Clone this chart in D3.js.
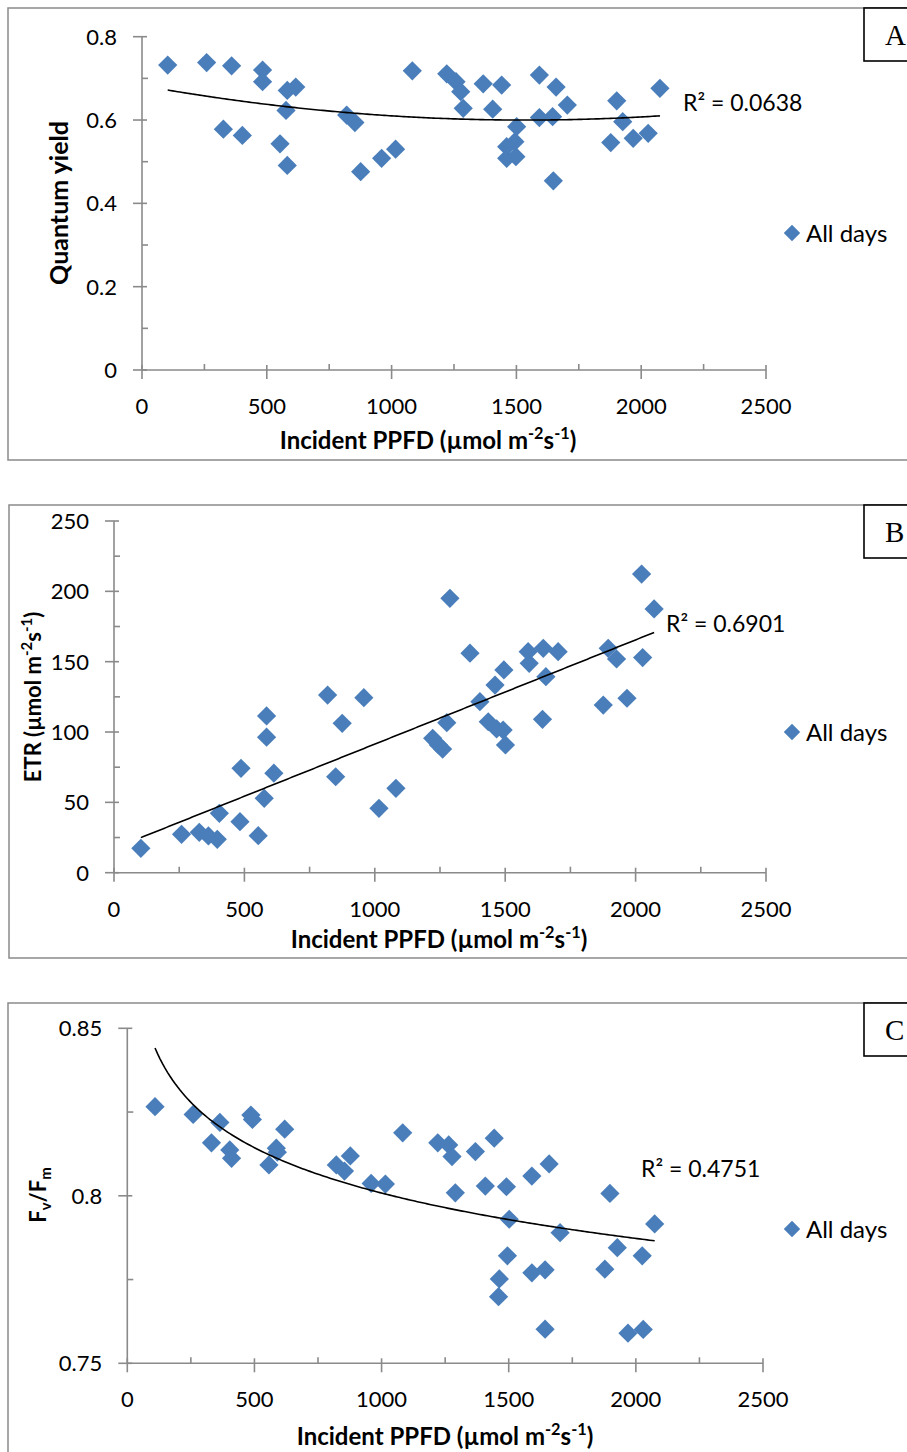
<!DOCTYPE html>
<html>
<head>
<meta charset="utf-8">
<script src="https://cdn.jsdelivr.net/npm/d3@7"></script>
<style>
  html, body { margin: 0; padding: 0; background: #fff; }
  svg { display: block; }
  text { font-family: Lato, "Open Sans", sans-serif; fill: #000; }
</style>
</head>
<body>
<svg id="chart" width="907" height="1452"></svg>
<script>
// ---- data ----
const ppfdA  = [103, 259, 326, 359, 402, 483, 483, 553, 577, 582, 582, 616, 820, 853, 876, 960, 1016, 1083,
                1221, 1258, 1277, 1287, 1367, 1405, 1441, 1461, 1461, 1494, 1498, 1501, 1592, 1592, 1645, 1648,
                1659, 1704, 1878, 1902, 1926, 1968, 2028, 2075];
const yieldA = [0.732, 0.738, 0.578, 0.730, 0.563, 0.720, 0.692, 0.543, 0.623, 0.671, 0.491, 0.679, 0.612, 0.594,
                0.476, 0.508, 0.530, 0.718, 0.711, 0.692, 0.668, 0.628, 0.687, 0.626, 0.684, 0.536, 0.508, 0.548,
                0.512, 0.584, 0.708, 0.606, 0.608, 0.454, 0.679, 0.636, 0.546, 0.646, 0.596, 0.556, 0.568, 0.676];

const ppfdB = [103, 259, 327, 362, 396, 404, 483, 487, 553, 576, 585, 585, 613, 819, 850, 875, 958, 1016, 1081,
               1222, 1244, 1260, 1276, 1288, 1365, 1403, 1435, 1461, 1467, 1492, 1495, 1501, 1588, 1592, 1643,
               1646, 1656, 1703, 1876, 1895, 1927, 1967, 2023, 2027, 2071];
const etrB  = [17.3, 27.3, 28.7, 26.1, 23.7, 42.2, 36.3, 74.2, 26.3, 52.9, 96.3, 111.4, 70.7, 126.3, 68.2, 106.2,
               124.4, 45.8, 60.0, 95.5, 90.8, 87.9, 106.6, 195.0, 156.0, 121.6, 107.3, 133.4, 102.2, 101.4, 144.1,
               90.8, 157.1, 148.8, 109.0, 159.5, 139.3, 157.1, 119.2, 159.5, 151.9, 124.0, 212.3, 152.9, 187.5];

const ppfdC = [109, 259, 331, 364, 403, 410, 486, 492, 557, 586, 590, 619, 822, 854, 877, 959, 1015, 1083, 1221,
               1264, 1277, 1290, 1369, 1408, 1443, 1460, 1463, 1491, 1495, 1502, 1591, 1591, 1643, 1643, 1659,
               1702, 1878, 1898, 1927, 1969, 2025, 2029, 2074];
const fvfmC = [0.8266, 0.8243, 0.8158, 0.8219, 0.8137, 0.8112, 0.8241, 0.8228, 0.8092, 0.8142, 0.8130, 0.8199,
               0.8092, 0.8074, 0.8119, 0.8037, 0.8035, 0.8188, 0.8158, 0.8152, 0.8117, 0.8009, 0.8132, 0.8029,
               0.8172, 0.7699, 0.7752, 0.8027, 0.7821, 0.7930, 0.8059, 0.7770, 0.7779, 0.7602, 0.8095, 0.7890,
               0.7781, 0.8007, 0.7845, 0.7590, 0.7821, 0.7601, 0.7916];

// trendline coefficients
const trendA = [0.6827, -1.0772e-4, 3.503e-8];   // polynomial, order 2
const trendB = [17.3, 0.0741];                    // linear
const trendC = [0.9358, -0.01954];                // logarithmic

const xTicks      = [0, 500, 1000, 1500, 2000, 2500];
const xMinorTicks = [250, 750, 1250, 1750, 2250];
const yTicksA     = [0, 0.2, 0.4, 0.6, 0.8];
const yMinorA     = [0.1, 0.3, 0.5, 0.7];
const yTicksB     = [0, 50, 100, 150, 200, 250];
const yMinorB     = [25, 75, 125, 175, 225];
const yTicksC     = [0.75, 0.8, 0.85];
const yMinorC     = [0.775, 0.825];
const r2Labels    = ["R² = 0.0638", "R² = 0.6901", "R² = 0.4751"];
const panelLetters = ["A", "B", "C"];
const seriesName  = "All days";

// ---- drawing ----
const svg = d3.select("#chart");
const BLUE = "#4a7ebb";
const AXIS = "#8a8a8a";
const fmtTick = d3.format("");

function richText(sel, parts, base) {
  // parts: [text, "sup"|"sub"|null]
  let shift = 0;
  parts.forEach(([t, kind]) => {
    const target = kind === "sup" ? -0.42 * base : kind === "sub" ? 0.22 * base : 0;
    const ts = sel.append("tspan").text(t).attr("dy", target - shift);
    if (kind) ts.attr("font-size", base * 0.68);
    shift = target;
  });
}

const unitParts = [["Incident PPFD (µmol m", null], ["-2", "sup"], ["s", null], ["-1", "sup"], [")", null]];

const panels = [
  {
    xs: ppfdA, ys: yieldA, frame: [8, 8, 460], xr: [142, 766], yr: [370, 36.7], yd: [0, 0.8],
    yTicks: yTicksA, yMinor: yMinorA, tickFmt: d3.format(""),
    trend: x => trendA[0] + trendA[1] * x + trendA[2] * x * x,
    yTitle: [["Quantum yield", null]], yTitleSize: 25, yTitlePos: [68, 203],
    xTitlePos: [428, 449], r2: r2Labels[0], r2Pos: [683, 111], legendY: 233, letter: panelLetters[0]
  },
  {
    xs: ppfdB, ys: etrB, frame: [9, 505, 958], xr: [114, 766], yr: [872.7, 521], yd: [0, 250],
    yTicks: yTicksB, yMinor: yMinorB, tickFmt: d3.format(""),
    trend: x => trendB[0] + trendB[1] * x,
    yTitle: [["ETR (µmol m", null], ["-2", "sup"], ["s", null], ["-1", "sup"], [")", null]],
    yTitleSize: 22, yTitlePos: [41, 697],
    xTitlePos: [439, 948], r2: r2Labels[1], r2Pos: [666, 632], legendY: 732, letter: panelLetters[1]
  },
  {
    xs: ppfdC, ys: fvfmC, frame: [8, 1003, 1470], xr: [127.3, 763], yr: [1363.3, 1028.3], yd: [0.75, 0.85],
    yTicks: yTicksC, yMinor: yMinorC, tickFmt: d3.format(""),
    trend: x => trendC[0] + trendC[1] * Math.log(x),
    yTitle: [["F", null], ["v", "sub"], ["/F", null], ["m", "sub"]], yTitleSize: 22, yTitlePos: [46, 1195],
    xTitlePos: [445, 1445], r2: r2Labels[2], r2Pos: [641, 1177], legendY: 1229, letter: panelLetters[2]
  }
];

panels.forEach(p => {
  const g = svg.append("g");
  const [fx, fy, fb] = p.frame;

  // chart-area border
  g.append("rect").attr("x", fx).attr("y", fy).attr("width", 1000).attr("height", fb - fy)
    .attr("fill", "none").attr("stroke", AXIS).attr("stroke-width", 1.5);

  const x = d3.scaleLinear().domain([0, 2500]).range(p.xr);
  const y = d3.scaleLinear().domain(p.yd).range(p.yr);
  const x0 = x(0), y0 = y(p.yd[0]);

  // y axis
  g.append("line").attr("x1", x0).attr("x2", x0).attr("y1", y(p.yd[1])).attr("y2", y0)
    .attr("stroke", AXIS).attr("stroke-width", 1.6);
  g.selectAll(null).data(p.yTicks).join("line")
    .attr("x1", x0 - 9).attr("x2", x0 + 5).attr("y1", d => y(d)).attr("y2", d => y(d))
    .attr("stroke", AXIS).attr("stroke-width", 1.6);
  g.selectAll(null).data(p.yMinor).join("line")
    .attr("x1", x0).attr("x2", x0 + 6).attr("y1", d => y(d)).attr("y2", d => y(d))
    .attr("stroke", AXIS).attr("stroke-width", 1.6);
  g.selectAll(null).data(p.yTicks).join("text")
    .attr("x", x0 - 25).attr("y", d => y(d)).attr("dy", "0.36em")
    .attr("text-anchor", "end").attr("font-size", 22).text(d => p.tickFmt(d));

  // x axis
  g.append("line").attr("x1", x0).attr("x2", x(2500)).attr("y1", y0).attr("y2", y0)
    .attr("stroke", AXIS).attr("stroke-width", 1.6);
  g.selectAll(null).data(xTicks).join("line")
    .attr("x1", d => x(d)).attr("x2", d => x(d)).attr("y1", y0 - 5).attr("y2", y0 + 9)
    .attr("stroke", AXIS).attr("stroke-width", 1.6);
  g.selectAll(null).data(xMinorTicks).join("line")
    .attr("x1", d => x(d)).attr("x2", d => x(d)).attr("y1", y0 - 6).attr("y2", y0)
    .attr("stroke", AXIS).attr("stroke-width", 1.6);
  g.selectAll(null).data(xTicks).join("text")
    .attr("x", d => x(d)).attr("y", y0 + 36).attr("dy", "0.36em")
    .attr("text-anchor", "middle").attr("font-size", 22).text(d => fmtTick(d));

  // axis titles
  const xt = g.append("text").attr("x", p.xTitlePos[0]).attr("y", p.xTitlePos[1])
    .attr("text-anchor", "middle").attr("font-size", 24).attr("font-weight", 700);
  richText(xt, unitParts, 24);
  const yt = g.append("text").attr("text-anchor", "middle").attr("font-size", p.yTitleSize).attr("font-weight", 700)
    .attr("transform", `translate(${p.yTitlePos[0]},${p.yTitlePos[1]}) rotate(-90)`);
  richText(yt, p.yTitle, p.yTitleSize);

  // points
  const pts = p.xs.map((v, i) => [v, p.ys[i]]);
  const diamond = d3.symbol(d3.symbolSquare, 185);
  g.selectAll(null).data(pts).join("path")
    .attr("d", diamond)
    .attr("transform", d => `translate(${x(d[0])},${y(d[1])}) rotate(45)`)
    .attr("fill", BLUE);

  // trendline
  const [lo, hi] = d3.extent(p.xs);
  const tx = d3.range(0, 201).map(i => lo + (hi - lo) * i / 200);
  g.append("path")
    .attr("d", d3.line().x(d => x(d)).y(d => y(p.trend(d)))(tx))
    .attr("fill", "none").attr("stroke", "#000").attr("stroke-width", 1.6);

  // R² label
  g.append("text").attr("x", p.r2Pos[0]).attr("y", p.r2Pos[1]).attr("font-size", 23).text(p.r2);

  // legend
  g.append("path").attr("d", d3.symbol(d3.symbolSquare, 135))
    .attr("transform", `translate(792,${p.legendY}) rotate(45)`).attr("fill", BLUE);
  g.append("text").attr("x", 806).attr("y", p.legendY).attr("dy", "0.36em")
    .attr("font-size", 24).text(seriesName);

  // panel letter
  g.append("rect").attr("x", 864).attr("y", fy).attr("width", 60).attr("height", 53)
    .attr("fill", "#fff").attr("stroke", "#000").attr("stroke-width", 1.6);
  g.append("text").attr("x", 885).attr("y", fy + 37)
    .style("font-family", "'Liberation Serif', 'DejaVu Serif', serif")
    .attr("font-size", 29).text(p.letter);
});
</script>
</body>
</html>
